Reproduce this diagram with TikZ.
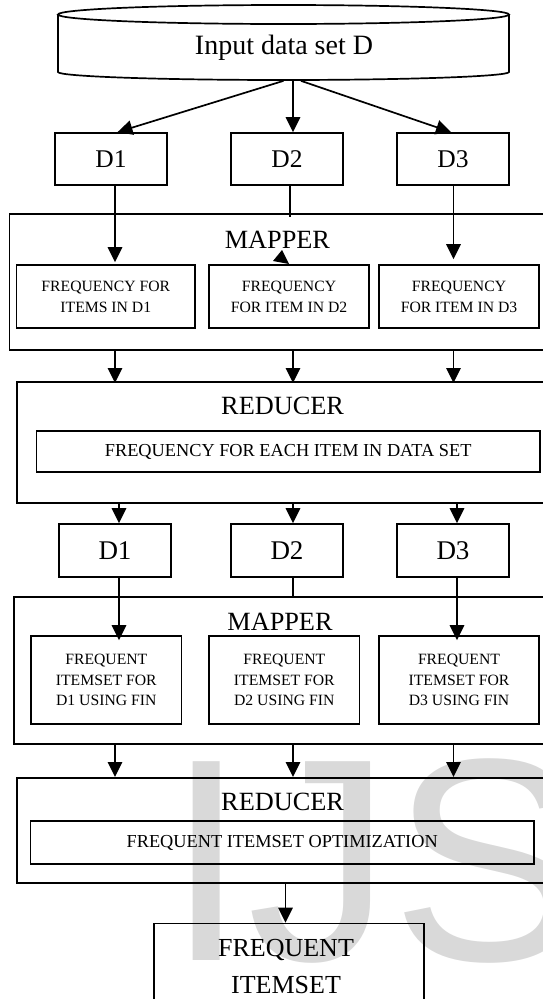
\documentclass[tikz,border=0pt]{standalone}
\usepackage{fontspec}
\setmainfont{Liberation Serif}
\newfontfamily\wmfont{Liberation Sans}
\usetikzlibrary{arrows.meta,calc}
\newcommand\myfs[2]{\fontsize{#1}{#2}\selectfont}
\begin{document}
\begin{tikzpicture}[x=1pt,y=-1pt,line width=1.7pt,
  box/.style={draw,rectangle,inner sep=0pt,align=center},
  frame/.style={draw,rectangle,inner sep=0pt,anchor=north west,minimum width=570pt},
  arr/.style={-{Triangle[length=15pt,width=14.5pt]}},
  ttl/.style={anchor=base,inner sep=0pt,font=\myfs{26.3}{30}},
  sm/.style={font=\myfs{15.7}{20.8}},
  mid/.style={font=\myfs{18.3}{22}}]
\useasboundingbox (0,0) rectangle (542,999);
% watermark
\begin{scope}
\clip (0,0) rectangle (542,999);
\node[anchor=base west,inner sep=0pt,text=black!15,font=\wmfont\myfs{289}{300}] (wm) at (166,960) {IJS};
\end{scope}
% column coordinates
\coordinate (a1) at (115,0);
\coordinate (a2) at (293,0);
\coordinate (a3) at (453.5,0);
\coordinate (b1) at (119,0);
\coordinate (b3) at (457,0);
% cylinder
\draw (58,14.5) -- (58,72) arc[start angle=180,end angle=0,x radius=225.5,y radius=8] -- (509,14.5);
\draw (283.5,14.5) ellipse [x radius=225.5,y radius=9.5];
\node[minimum width=451pt,minimum height=75pt,inner sep=0pt] (cyl) at (283.5,42.5) {};
\node[anchor=base,inner sep=0pt,font=\myfs{28}{32}] (cyltxt) at (284,54) {Input data set D};
% first D row
\node[box,minimum width=112pt,minimum height=52pt,font=\myfs{25.5}{30}] (D1) at (111,159) {D1};
\node[box,minimum width=112pt,minimum height=52pt,font=\myfs{25.5}{30}] (D2) at (287,159) {D2};
\node[box,minimum width=112pt,minimum height=52pt,font=\myfs{25.5}{30}] (D3) at (453,159) {D3};
\draw[arr] (cyl.south) -- ($(D1.north)+(6.5,0)$);
\draw[arr] (cyl.south -| a2) -- (D2.north -| a2);
\draw[arr] ($(cyl.south)+(17.5,0)$) -- ($(D3.north)+(-2,0)$);
% mapper 1
\node[frame,minimum height=136pt] (map1) at (8.6,213) {};
\node[ttl] (m1t) at (277.4,248) {MAPPER};
\node[box,sm,minimum width=178.4pt,minimum height=63pt] (f1) at (105.8,296.5) {FREQUENCY FOR\\ITEMS IN D1};
\node[box,sm,minimum width=160pt,minimum height=63pt] (f2) at (289,296.5) {FREQUENCY\\FOR ITEM IN D2};
\node[box,sm,minimum width=160pt,minimum height=63pt] (f3) at (459,296.5) {FREQUENCY\\FOR ITEM IN D3};
\draw[arr] (D1.south -| a1) -- ($(f1.north -| a1)+(0,-2)$);
\coordinate (d2end) at (290,217);
\draw (D2.south -| d2end) -- (d2end);
\fill (273,261) -- (282,250) -- (289,264) -- cycle;
\draw[arr] (D3.south -| a3) -- ($(f3.north -| a3)+(0,-5)$);
% reducer 1
\node[frame,minimum height=121pt] (red1) at (16.2,381) {};
\node[ttl] (r1t) at (282.6,414) {REDUCER};
\node[box,mid,minimum width=503.7pt,minimum height=41pt] (r1in) at (288.2,451.5) {FREQUENCY FOR EACH ITEM IN DATA SET};
\draw[arr] (map1.south -| a1) -- ($(red1.north -| a1)+(0,2)$);
\draw[arr] (map1.south -| a2) -- ($(red1.north -| a2)+(0,2)$);
\draw[arr] (map1.south -| a3) -- ($(red1.north -| a3)+(0,2)$);
% second D row
\node[box,minimum width=112.6pt,minimum height=53pt,font=\myfs{27}{30}] (E1) at (115,550.5) {D1};
\node[box,minimum width=112pt,minimum height=53pt,font=\myfs{27}{30}] (E2) at (287,550.5) {D2};
\node[box,minimum width=112pt,minimum height=53pt,font=\myfs{27}{30}] (E3) at (453,550.5) {D3};
\draw[arr] (red1.south -| b1) -- (E1.north -| b1);
\draw[arr] (red1.south -| a2) -- (E2.north -| a2);
\draw[arr] (red1.south -| b3) -- (E3.north -| b3);
% mapper 2
\node[frame,minimum height=147pt] (map2) at (13,596) {};
\node[ttl] (m2t) at (280,630) {MAPPER};
\node[box,sm,minimum width=150.5pt,minimum height=88pt] (g1) at (106.3,680) {FREQUENT\\ITEMSET FOR\\D1 USING FIN};
\node[box,sm,minimum width=150.5pt,minimum height=88pt] (g2) at (284.3,680) {FREQUENT\\ITEMSET FOR\\D2 USING FIN};
\node[box,sm,minimum width=160pt,minimum height=88pt] (g3) at (459,680) {FREQUENT\\ITEMSET FOR\\D3 USING FIN};
\draw[arr] (E1.south -| b1) -- ($(g1.north -| b1)+(0,5)$);
\draw (E2.south -| a2) -- (map2.north -| a2);
\draw[arr] (E3.south -| b3) -- ($(g3.north -| b3)+(0,5)$);
% reducer 2
\node[frame,minimum height=105pt] (red2) at (16.2,777) {};
\node[ttl] (r2t) at (282.6,810.5) {REDUCER};
\node[box,mid,minimum width=503.6pt,minimum height=43pt] (r2in) at (282.2,842.5) {FREQUENT ITEMSET OPTIMIZATION};
\draw[arr] (map2.south -| a1) -- (red2.north -| a1);
\draw[arr] (map2.south -| a2) -- (red2.north -| a2);
\draw[arr] (map2.south -| a3) -- (red2.north -| a3);
% output
\coordinate (a4) at (285.5,0);
\node[frame,minimum width=270pt,minimum height=120pt] (out) at (153,922.7) {};
\node[align=center,inner sep=0pt,font=\myfs{26}{37}] (outtxt) at (286,966.6) {FREQUENT\\ITEMSET};
\draw[arr] (red2.south -| a4) -- (out.north -| a4);
\end{tikzpicture}
\end{document}
